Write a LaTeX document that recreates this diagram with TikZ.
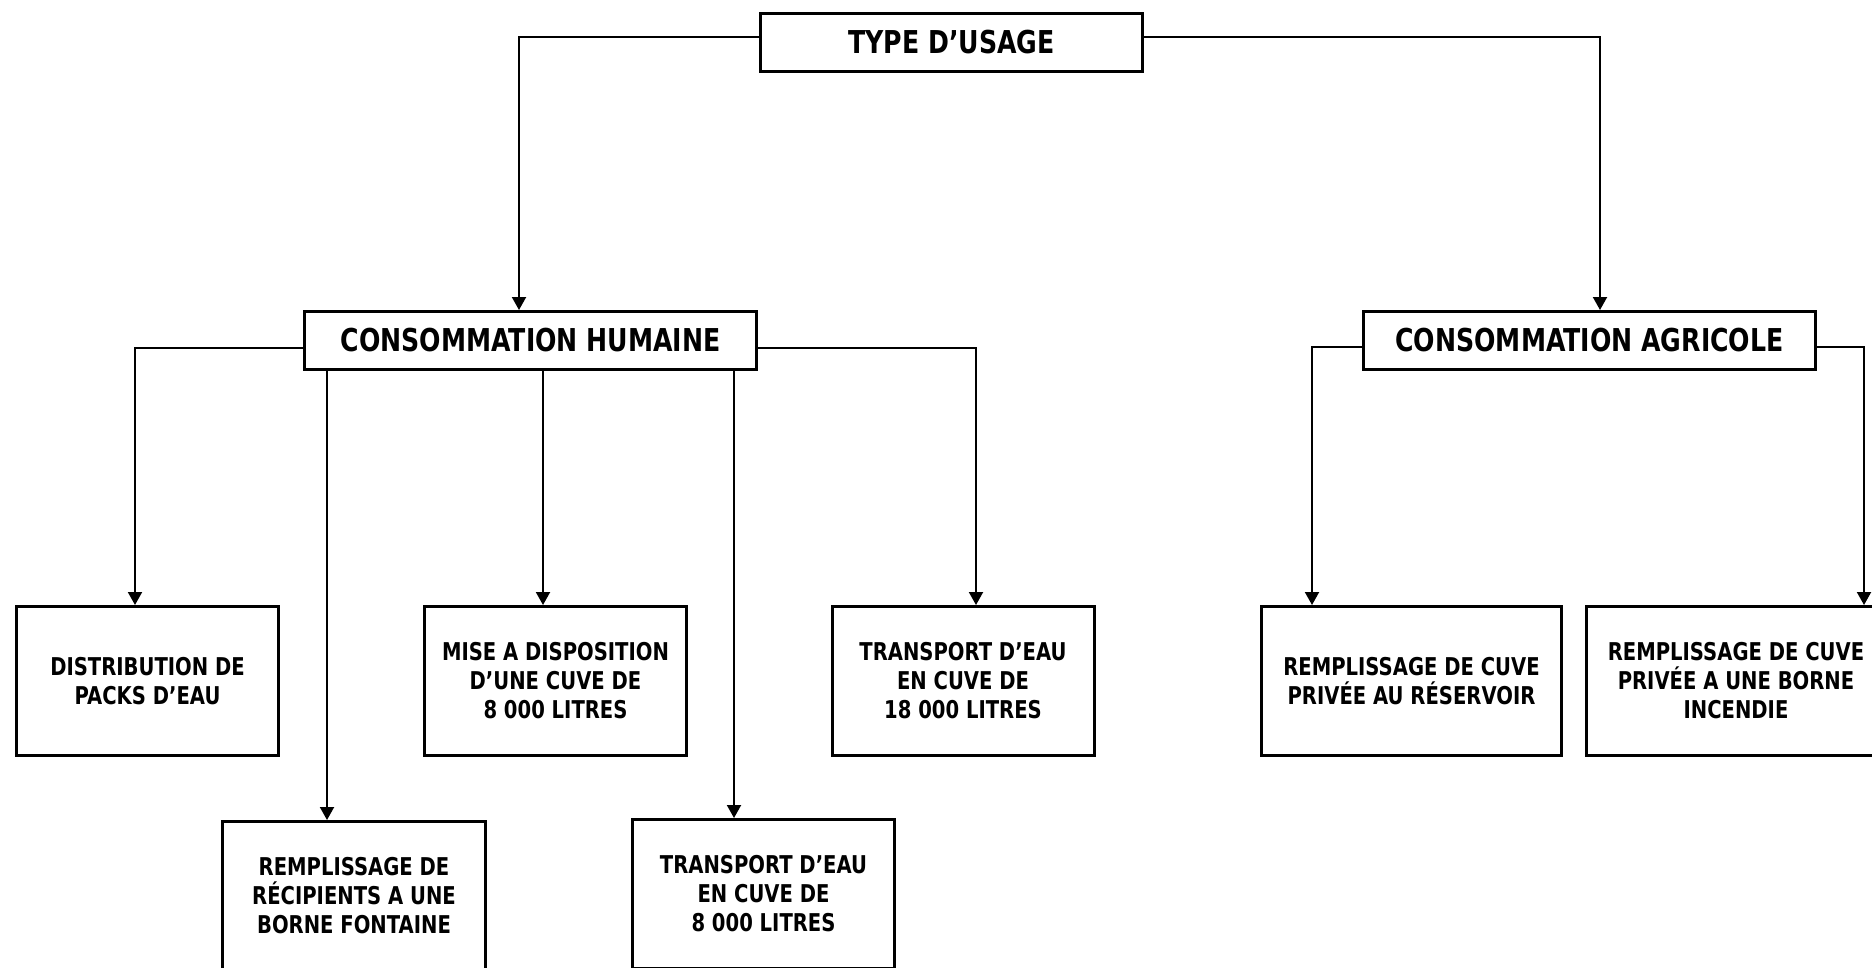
\documentclass[tikz,border=0pt]{standalone}
\usepackage{fontspec}
\newfontfamily\usagefont[FakeStretch=0.8]{DejaVu Sans}
\usetikzlibrary{arrows.meta,positioning}
\tikzset{
    %Define standard arrow tip
    >={Triangle[length=13pt,width=14pt]},
    %Define style for title boxes
    box/.style={
           rectangle,
           draw=black, line width=3pt,
           minimum width=452pt,
           minimum height=58pt,
           inner sep=0pt,
           font=\usagefont\bfseries\fontsize{31.5}{38}\selectfont},
    %Define style for the lower boxes
    leaf/.style={
           rectangle,
           draw=black, line width=3pt,
           minimum width=262pt,
           minimum height=149pt,
           inner sep=0pt,
           align=center,
           font=\usagefont\bfseries\fontsize{24.5}{29}\selectfont},
    % Define arrow style
    imply/.style={
           ->,
           line width=2pt}
}

\begin{document}
\begin{tikzpicture}[x=1pt, y=-1pt]
    \useasboundingbox (0,0) rectangle (1872,967);
 %nodes
    \node[box, minimum width=382pt] (type) at (951.5,42.5) {TYPE D’USAGE};
    \node[box] (ch) at (530.5,340.5) {CONSOMMATION HUMAINE};
    \node[box] (ca) at (1589.5,340.5) {CONSOMMATION AGRICOLE};
    \node[leaf] (dist) at (147.5,681) {DISTRIBUTION DE\\PACKS D’EAU};
    \node[leaf] (mise) at (555.5,681) {MISE A DISPOSITION\\D’UNE CUVE DE\\8 000 LITRES};
    \node[leaf] (tr18) at (963,681) {TRANSPORT D’EAU\\EN CUVE DE\\18 000 LITRES};
    \node[leaf, minimum width=300pt] (res) at (1411.5,681) {REMPLISSAGE DE CUVE\\PRIVÉE AU RÉSERVOIR};
    \node[leaf, minimum width=300pt] (inc) at (1736,681) {REMPLISSAGE DE CUVE\\PRIVÉE A UNE BORNE\\INCENDIE};
    \node[leaf, minimum width=263pt] (rec) at (354,896) {REMPLISSAGE DE\\RÉCIPIENTS A UNE\\BORNE FONTAINE};
    \node[leaf] (t8) at (763.5,894) {TRANSPORT D’EAU\\EN CUVE DE\\8 000 LITRES};
 %arrow ends
    \coordinate (chin) at ([xshift=-11.5pt]ch.north);
    \coordinate (cain) at ([xshift=10.5pt]ca.north);
    \coordinate (distin) at ([xshift=-12.5pt]dist.north);
    \coordinate (recin) at ([xshift=-27pt]rec.north);
    \coordinate (misein) at ([xshift=-12.5pt]mise.north);
    \coordinate (t8in) at ([xshift=-29.5pt]t8.north);
    \coordinate (tr18in) at ([xshift=13pt]tr18.north);
    \coordinate (resin) at ([xshift=-99.5pt]res.north);
    \coordinate (incin) at ([xshift=128pt]inc.north);
 %edges
    \draw[imply] ([yshift=6pt]type.west) -| (chin);
    \draw[imply] ([yshift=6pt]type.east) -| (cain);
    \draw[imply] ([yshift=-7pt]ch.west) -| (distin);
    \draw[imply] (recin |- ch.south) -- (recin);
    \draw[imply] (misein |- ch.south) -- (misein);
    \draw[imply] (t8in |- ch.south) -- (t8in);
    \draw[imply] ([yshift=-7pt]ch.east) -| (tr18in);
    \draw[imply] ([yshift=-6pt]ca.west) -| (resin);
    \draw[imply] ([yshift=-6pt]ca.east) -| (incin);
\end{tikzpicture}
\end{document}
